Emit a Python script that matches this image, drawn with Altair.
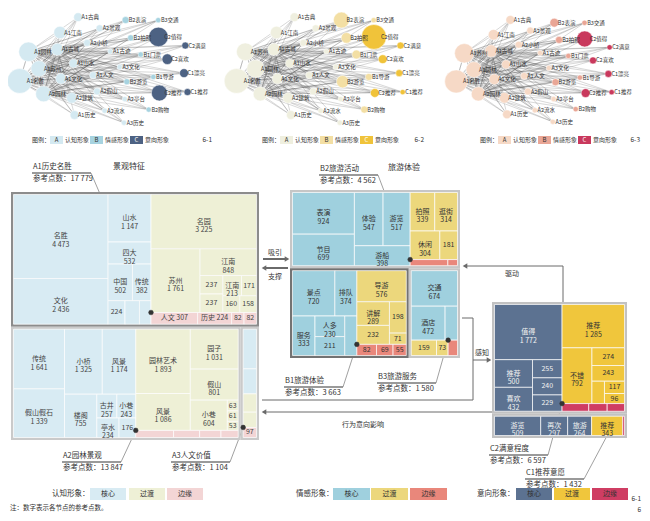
import math
import altair as alt
import pandas as pd

FONT = "Noto Sans CJK SC"

# ====================== DATA ======================
# ---- treemap A (认知形象) ----
A_TOTALS = {"A1": 17779, "A2": 13847, "A3": 1104}
A1_core_names = ["名胜", "文化", "山水", "四大", "中国", "传统", "历史", "古迹", "古城"]
A1_core_vals = [4473, 2436, 1147, 532, 502, 382, 224, 191, 153]
A1_trans_names = ["名园", "苏州", "江南", "山水", "园林", "江南", "名楼", "古迹", "园林"]
A1_trans_vals = [3225, 1761, 848, 237, 237, 213, 171, 160, 158]
A1_edge_names = ["人文", "历史", "园林", "古迹"]
A1_edge_vals = [307, 224, 82, 82]

A2_core_names = ["传统", "假山假石", "小桥", "风景", "楼阁", "古井", "小巷", "亭水", "流水"]
A2_core_vals = [1641, 1339, 1325, 1174, 755, 257, 243, 234, 176]
A2_trans_names = ["园林艺术", "风景", "园子", "假山", "小巷", "花木", "古树", "建筑"]
A2_trans_vals = [1893, 1086, 1031, 801, 604, 63, 61, 53]
A2_edge_names = ["园林景观", "风景", "小桥", "布局"]
A2_edge_vals = [145, 100, 82, 66]

A3_core_names = ["文化", "历史"]
A3_core_vals = [382, 241]
A3_trans_names = ["古迹", "名称"]
A3_trans_vals = [177, 147]
A3_edge_names = ["其他"]
A3_edge_vals = [97]

# ---- treemap B (情感形象) ----
B_TOTALS = {"B2": 4562, "B1": 3663, "B3": 1580}
B2_core_names = ["表演", "节目", "体验", "游览", "游船"]
B2_core_vals = [924, 699, 547, 517, 398]
B2_trans_names = ["拍照", "逛街", "休闲", "购物"]
B2_trans_vals = [339, 314, 304, 181]
B2_edge_names = ["特色体验", "活动"]
B2_edge_vals = [82, 21]

B1_core_names = ["景点", "排队", "服务", "人多", "门票", "游客"]
B1_core_vals = [720, 374, 333, 230, 211, 179]
B1_trans_names = ["导游", "讲解", "门票", "价格", "便宜"]
B1_trans_vals = [576, 289, 232, 198, 71]
B1_edge_names = ["门票", "太贵", "拥挤"]
B1_edge_vals = [82, 69, 55]

B3_core_names = ["交通", "酒店", "地铁"]
B3_core_vals = [674, 472, 173]
B3_trans_names = ["便利", "方便"]
B3_trans_vals = [159, 73]
B3_edge_names = ["拥堵"]
B3_edge_vals = [59]

# ---- treemap C (意向形象) ----
C_TOTALS = {"C2": 6597, "C1": 1432}
C2_core_names = ["值得", "推荐", "喜欢", "满意", "值得一去", "漂亮"]
C2_core_vals = [1772, 500, 432, 255, 240, 229]
C2_trans_names = ["推荐", "不错", "方便", "舒服", "好玩", "一般", "舒适"]
C2_trans_vals = [1285, 792, 274, 243, 133, 117, 96]
C2_edge_names = ["失望", "不值", "后悔"]
C2_edge_vals = [97, 67, 63]

C1_core_names = ["游览", "再次", "旅游"]
C1_core_vals = [509, 297, 264]
C1_trans_names = ["推荐"]
C1_trans_vals = [343]
C1_edge_names = ["不推荐"]
C1_edge_vals = [19]

PANEL_TITLES = {"A1": "A1历史名胜", "A2": "A2园林景观", "A3": "A3人文价值",
                "B2": "B2旅游活动", "B1": "B1旅游体验", "B3": "B3旅游服务",
                "C2": "C2满意程度", "C1": "C1推荐意愿"}
SECTION_TITLES = ["景观特征", "旅游体验"]
LEGEND_TITLES = ["认知形象：", "情感形象：", "意向形象："]
LEVELS = ["核心", "过渡", "边缘"]
ARROW_LABELS = ["吸引", "支撑", "驱动", "感知", "行为意向影响"]
FOOTNOTE = "注：数字表示各节点的参考点数。"

# ---- networks ----
NET_A_names = ["A1名胜", "A1苏州", "A1园林", "A2园林", "A1古城", "A1江南", "A1文化", "A2建筑",
               "A1山水", "A1历史", "A1古典", "A2小桥", "A1人文", "A2假山", "A2景观", "A2流水",
               "A1古迹", "A3文化", "A3历史", "A2亭台"]
NET_B_names = ["B2表演", "B2游览", "B2拍照", "B1门票", "B2购物", "B1导游", "B3交通"]
NET_C_names = ["C2值得", "C2推荐", "C2喜欢", "C1漂亮", "C2满意", "C1推荐"]
NET_A_sizes = [[14, 9, 11, 9, 7, 7, 6, 6, 5, 5, 5, 4, 4, 4, 4, 3, 3, 3, 3, 3],
               [14, 10, 10, 8, 7, 7, 6, 6, 5, 5, 5, 4, 4, 4, 4, 3, 3, 3, 3, 3],
               [13, 11, 9, 8, 7, 6, 6, 6, 5, 5, 5, 4, 4, 4, 4, 3, 3, 3, 3, 3]]
NET_B_sizes = [[4, 3.5, 3.5, 3, 3, 3, 3],
               [9, 7, 6, 5, 4, 4, 3],
               [5, 4, 4, 3, 3, 3, 3]]
NET_C_sizes = [[11, 9, 6, 5, 4, 4],
               [14, 5, 5, 4, 4, 3],
               [9, 5, 4, 4, 3, 3]]
NET_LEGEND = ["认知形象", "情感形象", "意向形象"]
NET_FIG = ["6-1", "6-2", "6-3"]

# ====================== STYLE / LAYOUT ======================
PAL = {"A": ["#d8ebf3", "#eef0d6", "#f3d5d5"],
       "B": ["#9fd0de", "#ecd77c", "#e9877b"],
       "C": ["#5c7291", "#f0c63c", "#cf3d63"]}
TXT = {"A": ["#444", "#444", "#444"], "B": ["#333", "#333", "#333"], "C": ["#f2f2f2", "#333", "#f2f2f2"]}
BORDER = {"A1": "#8c8c8c", "A2": "#cacaca", "A3": "#cacaca",
          "B2": "#c6c6c6", "B1": "#737373", "B3": "#c6c6c6",
          "C2": "#c2c2c2", "C1": "#c2c2c2"}
NET_COLORS = [["#d4e9f1", "#a7d3e0", "#4d6283"],
              ["#efefdf", "#f3dfa4", "#f0c33a"],
              ["#f6d9c6", "#e9a696", "#c9395d"]]
LEFT_BOX = (11, 192, 259, 440)
MID_BOX = (290, 190, 460, 358)
RIGHT_BOX = (492, 302, 627, 438)

rect_rows, text_rows, line_rows, circle_rows, shape_rows = [], [], [], [], []


def fmt(v):
    return f"{v:,}".replace(",", " ")


def tw(s, fs=7):
    return sum(fs if ord(c) > 255 else fs * 0.56 for c in s)


def add_text(x, y, t, color="#333", fs=7, align="center"):
    text_rows.append(dict(x=x, y=y, text=t, color=color, fs=fs, align=align))


def add_line(x, y, x2, y2, color="#666", sw=1.0, op=1.0):
    line_rows.append(dict(x=x, y=y, x2=x2, y2=y2, color=color, sw=sw, op=op))


def squarify(vals, x, y, w, h):
    out = [None] * len(vals)
    total = float(sum(vals))
    if total <= 0 or w <= 0 or h <= 0:
        return [(x, y, x + max(w, 0), y + max(h, 0))] * len(vals)
    scale = w * h / total
    items = sorted([(i, v * scale) for i, v in enumerate(vals)], key=lambda t: -t[1])

    def worst(r, side):
        s = sum(a for _, a in r)
        mx = max(a for _, a in r)
        mn = max(min(a for _, a in r), 1e-9)
        return max(side * side * mx / (s * s), (s * s) / (side * side * mn))

    def place(r, x, y, w, h):
        s = sum(a for _, a in r)
        if w > h:
            cw = s / h
            yy = y
            for i, a in r:
                rh = a / cw
                out[i] = (x, yy, x + cw, yy + rh)
                yy += rh
            return x + cw, y, w - cw, h
        rh = s / w
        xx = x
        for i, a in r:
            cw = a / rh
            out[i] = (xx, y, xx + cw, y + rh)
            xx += cw
        return x, y + rh, w, h - rh

    row = []
    while items:
        side = min(w, h)
        if not row:
            row = [items.pop(0)]
            continue
        cand = row + [items[0]]
        if worst(cand, side) <= worst(row, side):
            row = cand
            items.pop(0)
        else:
            x, y, w, h = place(row, x, y, w, h)
            row = []
    if row:
        place(row, x, y, w, h)
    return out


def split_top(box, top_val, row_vals):
    x0, y0, x1, y1 = box
    tot = top_val + sum(row_vals)
    ht = (y1 - y0) * top_val / tot
    res = [(x0, y0, x1, y0 + ht)]
    xx = x0
    rs = sum(row_vals)
    for v in row_vals:
        wv = (x1 - x0) * v / rs
        res.append((xx, y0 + ht, xx + wv, y1))
        xx += wv
    return res


def draw_panel(key, box, groups, fam):
    x0, y0, x1, y1 = box
    rect_rows.append(dict(x=x0, x2=x1, y=y0, y2=y1, fill=BORDER[key], stroke=BORDER[key], sw=0))
    ins = 2.5
    ix0, iy0, ix1, iy1 = x0 + ins, y0 + ins, x1 - ins, y1 - ins
    sums = [sum(v) for _, v in groups]
    gboxes = squarify(sums, ix0, iy0, ix1 - ix0, iy1 - iy0)
    for gi, ((names, vals), gb) in enumerate(zip(groups, gboxes)):
        cells = squarify(vals, gb[0], gb[1], gb[2] - gb[0], gb[3] - gb[1])
        for nm, v, c in zip(names, vals, cells):
            rect_rows.append(dict(x=c[0], x2=c[2], y=c[1], y2=c[3], fill=PAL[fam][gi], stroke="#ffffff", sw=0.7))
            w, h = c[2] - c[0], c[3] - c[1]
            cx, cy = (c[0] + c[2]) / 2, (c[1] + c[3]) / 2
            col = TXT[fam][gi]
            two_w = max(tw(nm), tw(fmt(v))) + 4
            one = f"{nm} {fmt(v)}"
            if h >= 19 and w >= two_w:
                add_text(cx, cy, f"{nm}\n{fmt(v)}", col)
            elif h >= 8 and w >= tw(one) + 4:
                add_text(cx, cy, one, col)
            elif h >= 8 and w >= tw(fmt(v)) + 3:
                add_text(cx, cy, fmt(v), col)
    return gboxes


# ---------------- treemaps ----------------
geo = {}
boxesA = split_top(LEFT_BOX, A_TOTALS["A1"], [A_TOTALS["A2"], A_TOTALS["A3"]])
geo["A1"] = draw_panel("A1", boxesA[0], [(A1_core_names, A1_core_vals), (A1_trans_names, A1_trans_vals), (A1_edge_names, A1_edge_vals)], "A")
geo["A2"] = draw_panel("A2", boxesA[1], [(A2_core_names, A2_core_vals), (A2_trans_names, A2_trans_vals), (A2_edge_names, A2_edge_vals)], "A")
geo["A3"] = draw_panel("A3", boxesA[2], [(A3_core_names, A3_core_vals), (A3_trans_names, A3_trans_vals), (A3_edge_names, A3_edge_vals)], "A")

boxesB = split_top(MID_BOX, B_TOTALS["B2"], [B_TOTALS["B1"], B_TOTALS["B3"]])
geo["B2"] = draw_panel("B2", boxesB[0], [(B2_core_names, B2_core_vals), (B2_trans_names, B2_trans_vals), (B2_edge_names, B2_edge_vals)], "B")
geo["B1"] = draw_panel("B1", boxesB[1], [(B1_core_names, B1_core_vals), (B1_trans_names, B1_trans_vals), (B1_edge_names, B1_edge_vals)], "B")
geo["B3"] = draw_panel("B3", boxesB[2], [(B3_core_names, B3_core_vals), (B3_trans_names, B3_trans_vals), (B3_edge_names, B3_edge_vals)], "B")

boxesC = split_top(RIGHT_BOX, C_TOTALS["C2"], [C_TOTALS["C1"]])
geo["C2"] = draw_panel("C2", boxesC[0], [(C2_core_names, C2_core_vals), (C2_trans_names, C2_trans_vals), (C2_edge_names, C2_edge_vals)], "C")
geo["C1"] = draw_panel("C1", boxesC[1], [(C1_core_names, C1_core_vals), (C1_trans_names, C1_trans_vals), (C1_edge_names, C1_edge_vals)], "C")

TOT = {**A_TOTALS, **B_TOTALS, **C_TOTALS}

# annotations: key, text x, first line y
ANNOTS = [("A1", 33, 167), ("B2", 320, 169), ("A2", 63, 456), ("A3", 172, 456),
          ("B1", 285, 381), ("B3", 378, 377), ("C2", 490, 449), ("C1", 526, 473)]
for key, tx, ty in ANNOTS:
    add_text(tx, ty, PANEL_TITLES[key], "#333", 7.5, "left")
    add_text(tx, ty + 12, "参考点数：" + fmt(TOT[key]), "#333", 7.5, "left")
    add_line(tx - 1, ty + 6, tx + 58, ty + 6, "#9a9a9a", 1.8)
    g = geo[key]
    if key == "C1":
        ex, ey = (g[1][0] + g[1][2]) / 2, g[1][3]
    else:
        ex, ey = g[2][0], g[2][1]
        circle_rows.append(dict(x=ex, y=ey, size=22, fill="#333333", stroke="#333333"))
    add_line(tx + 58, ty + 6, ex, ey, "#777", 0.7)

add_text(113, 167, SECTION_TITLES[0], "#333", 8, "left")
add_text(388, 168, SECTION_TITLES[1], "#333", 8, "left")

# arrows
AR = "#6a6a6a"
add_line(263, 259, 286, 259, AR, 2)
shape_rows.append(dict(x=287, y=259, shape="triangle-right"))
add_line(265, 268, 288, 268, AR, 2)
shape_rows.append(dict(x=264, y=268, shape="triangle-left"))
add_text(268, 253, ARROW_LABELS[0], "#333", 7, "left")
add_text(268, 277, ARROW_LABELS[1], "#333", 7, "left")

add_line(563, 302, 563, 266, AR, 1)
add_line(563, 266, 466, 266, AR, 1)
shape_rows.append(dict(x=465, y=266, shape="triangle-left"))
add_text(505, 274, ARROW_LABELS[2], "#333", 7, "left")

add_line(262, 400, 473, 400, AR, 1)
add_line(473, 400, 473, 318, AR, 1)
add_line(473, 318, 462, 318, AR, 1)
add_line(473, 360, 488, 360, AR, 1)
shape_rows.append(dict(x=489, y=360, shape="triangle-right"))
add_text(475, 353, ARROW_LABELS[3], "#333", 7, "left")

add_line(492, 412, 266, 412, AR, 1)
shape_rows.append(dict(x=264, y=412, shape="triangle-left"))
add_text(342, 425, ARROW_LABELS[4], "#333", 7, "left")

# bottom legends
LEG = [("A", 52, [90, 129, 167], 36), ("B", 296, [333, 371, 410], 37), ("C", 477, [516, 554, 592], 36)]
for li, (fam, lx, sxs, sw_) in enumerate(LEG):
    add_text(lx, 494, LEGEND_TITLES[li], "#333", 7.5, "left")
    for k, sx in enumerate(sxs):
        rect_rows.append(dict(x=sx, x2=sx + sw_, y=488, y2=500, fill=PAL[fam][k], stroke=PAL[fam][k], sw=0))
        add_text(sx + sw_ / 2, 494, LEVELS[k], "#333", 7, "center")

add_text(10, 508, FOOTNOTE, "#333", 6.5, "left")
add_text(641, 498.5, "6-1", "#333", 6.5, "right")
add_text(641, 509.5, "6", "#333", 6.5, "right")

# ---------------- networks ----------------
NET_GEOM = [(108, 67, 95, 57, 0), (324, 67, 94, 57, 218), (538, 68, 88, 55, 432)]
LEG_START = [32, 262, 480]
FIG_X = [212, 424, 640]


def sunflower(cx, cy, rx, ry, n):
    ga = math.pi * (3 - math.sqrt(5))
    pts = []
    for k in range(n):
        r = math.sqrt((k + 0.5) / n)
        t = k * ga
        pts.append((cx + rx * r * math.cos(t), cy + ry * r * math.sin(t)))
    pts.sort(key=lambda p: p[0])
    return pts


for ni, (cx, cy, rx, ry, ox) in enumerate(NET_GEOM):
    nodes = []
    for cat, names, sizes in ((0, NET_A_names, NET_A_sizes[ni]), (1, NET_B_names, NET_B_sizes[ni]), (2, NET_C_names, NET_C_sizes[ni])):
        order = sorted(range(len(names)), key=lambda i: -sizes[i])
        for i in order:
            nodes.append((names[i], cat, sizes[i]))
    pts = sunflower(cx, cy, rx, ry, len(nodes))
    hubs = [j for j in range(len(nodes)) if nodes[j][1] == 0][:5]
    for h in hubs:
        for j in range(len(nodes)):
            if j != h:
                add_line(pts[h][0], pts[h][1], pts[j][0], pts[j][1], "#444", 0.35, 0.6)
    for j, (nm, cat, r) in enumerate(nodes):
        circle_rows.append(dict(x=pts[j][0], y=pts[j][1], size=math.pi * r * r,
                                fill=NET_COLORS[ni][cat], stroke="#ffffff"))
    for j, (nm, cat, r) in enumerate(nodes):
        add_text(pts[j][0] + r * 0.4 + 1.5, pts[j][1], nm, "#333", 5.5, "left")
    # legend row
    lx = LEG_START[ni]
    add_text(lx, 140, "图例：", "#333", 6, "left")
    for k in range(3):
        sx = lx + 18 + k * 40
        rect_rows.append(dict(x=sx, x2=sx + 13, y=136, y2=144, fill=NET_COLORS[ni][k], stroke=NET_COLORS[ni][k], sw=0))
        add_text(sx + 6.5, 140, "ABC"[k], "#333" if k < 2 else "#fff", 6, "center")
        add_text(sx + 15, 140, NET_LEGEND[k], "#333", 6, "left")
    add_text(FIG_X[ni], 140, NET_FIG[ni], "#333", 6.5, "right")

# ====================== CHART ======================
X = alt.X("x:Q", scale=alt.Scale(domain=[8, 642], nice=False, zero=False), axis=None)
Y = alt.Y("y:Q", scale=alt.Scale(domain=[8, 513], nice=False, zero=False, reverse=True), axis=None)

rdf = pd.DataFrame(rect_rows)
ldf = pd.DataFrame(line_rows)
cdf = pd.DataFrame(circle_rows)
sdf = pd.DataFrame(shape_rows)
tdf = pd.DataFrame(text_rows)

lines = alt.Chart(ldf).mark_rule().encode(
    x=X, y=Y, x2="x2:Q", y2="y2:Q",
    color=alt.Color("color:N", scale=None),
    strokeWidth=alt.StrokeWidth("sw:Q", scale=None),
    opacity=alt.Opacity("op:Q", scale=None))

rects = alt.Chart(rdf).mark_rect().encode(
    x=X, y=Y, x2="x2:Q", y2="y2:Q",
    fill=alt.Fill("fill:N", scale=None),
    stroke=alt.Stroke("stroke:N", scale=None),
    strokeWidth=alt.StrokeWidth("sw:Q", scale=None))

circles = alt.Chart(cdf).mark_circle(opacity=1, strokeWidth=0.5).encode(
    x=X, y=Y,
    size=alt.Size("size:Q", scale=None),
    fill=alt.Fill("fill:N", scale=None),
    stroke=alt.Stroke("stroke:N", scale=None))

shapes = alt.Chart(sdf).mark_point(filled=True, size=28, color=AR, opacity=1).encode(
    x=X, y=Y, shape=alt.Shape("shape:N", scale=None))

text_layers = []
for al in ["center", "left", "right"]:
    sub = tdf[tdf["align"] == al]
    if len(sub):
        text_layers.append(alt.Chart(sub).mark_text(align=al, baseline="middle", font=FONT,
                                                    lineBreak="\n", lineHeight=8.5).encode(
            x=X, y=Y, text="text:N",
            color=alt.Color("color:N", scale=None),
            size=alt.Size("fs:Q", scale=None)))

chart = alt.layer(lines, rects, circles, shapes, *text_layers).properties(
    width=634, height=505, autosize=alt.AutoSizeParams(type="none"), padding=0,
    background="white"
).configure_view(stroke=None)

chart.save("out.html", embed_options={"renderer": "svg", "actions": False})
